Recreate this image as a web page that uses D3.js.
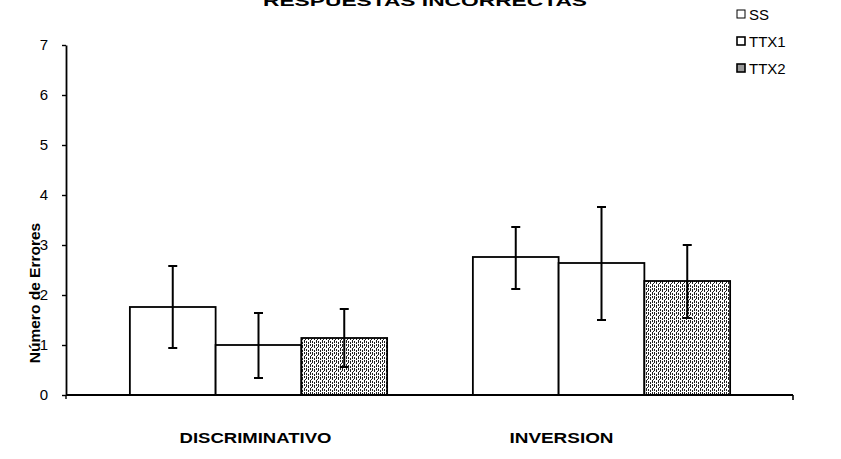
<!DOCTYPE html>
<html>
<head>
<meta charset="utf-8">
<script src="https://cdn.jsdelivr.net/npm/d3@7"></script>
<style>
  html, body { margin: 0; padding: 0; background: #fff; }
  svg { display: block; font-family: "Liberation Sans", Arial, sans-serif; }
</style>
</head>
<body>
<svg id="chart" width="841" height="459"></svg>
<script>
// Task categories and treatment groups
const categories = ["DISCRIMINATIVO", "INVERSION"];
const series = ["SS", "TTX1", "TTX2"];

// Mean number of errors per treatment, one entry per category
const ssMeans   = [1.76, 2.76];
const ttx1Means = [1.00, 2.64];
const ttx2Means = [1.14, 2.28];

// Error bar extents (lower, upper) per treatment
const ssLow    = [0.94, 2.12];
const ssHigh   = [2.58, 3.36];
const ttx1Low  = [0.34, 1.50];
const ttx1High = [1.64, 3.76];
const ttx2Low  = [0.56, 1.54];
const ttx2High = [1.72, 3.00];

const yTicks = [0, 1, 2, 3, 4, 5, 6, 7];

const table = [
  { key: "SS",   mean: ssMeans,   low: ssLow,   high: ssHigh },
  { key: "TTX1", mean: ttx1Means, low: ttx1Low, high: ttx1High },
  { key: "TTX2", mean: ttx2Means, low: ttx2Low, high: ttx2High }
];
const rows = [];
categories.forEach((c, ci) => table.forEach(s => rows.push({
  cat: c, key: s.key, mean: s.mean[ci], low: s.low[ci], high: s.high[ci]
})));

const svg = d3.select("#chart");

// Dotted halftone fill for the TTX2 bars
const defs = svg.append("defs");
const pat = defs.append("pattern")
  .attr("id", "halftone").attr("patternUnits", "userSpaceOnUse")
  .attr("width", 6).attr("height", 8);
pat.append("rect").attr("width", 6).attr("height", 8).attr("fill", "#fff");
[[0,0,1,3],[2,1,1,3],[4,0,1,2],[4,4,1,3],[0,5,1,2],[2,6,1,2],[5,3,1,1]]
  .forEach(r => pat.append("rect").attr("x", r[0]).attr("y", r[1])
    .attr("width", r[2]).attr("height", r[3]).attr("fill", "#222"));
const fills = { SS: "#fff", TTX1: "#fff", TTX2: "url(#halftone)" };

const axisLeft = 66, axisRight = 793;
const y = d3.scaleLinear().domain([0, 7]).range([395, 45]);
const x0 = d3.scaleBand().domain(categories).range([87, 773]);
const x1 = d3.scaleBand().domain(series).range([0, x0.bandwidth()]).paddingOuter(0.5);

// Title (runs past the top edge)
svg.append("text")
  .attr("x", 425).attr("y", 6)
  .attr("text-anchor", "middle")
  .attr("font-weight", "bold").attr("font-size", 15)
  .attr("textLength", 324).attr("lengthAdjust", "spacingAndGlyphs")
  .text("RESPUESTAS INCORRECTAS");

// Bars
svg.append("g").selectAll("rect").data(rows).join("rect")
  .attr("x", d => x0(d.cat) + x1(d.key))
  .attr("y", d => y(d.mean))
  .attr("width", x1.bandwidth())
  .attr("height", d => y(0) - y(d.mean))
  .attr("fill", d => fills[d.key])
  .attr("stroke", "#000").attr("stroke-width", 1.8);

// Error bars
const eb = svg.append("g").attr("stroke", "#000").attr("stroke-width", 2);
rows.forEach(d => {
  const cx = x0(d.cat) + x1(d.key) + x1.bandwidth() / 2;
  eb.append("line").attr("x1", cx).attr("x2", cx).attr("y1", y(d.low)).attr("y2", y(d.high));
  eb.append("line").attr("x1", cx - 4.5).attr("x2", cx + 4.5).attr("y1", y(d.low)).attr("y2", y(d.low));
  eb.append("line").attr("x1", cx - 4.5).attr("x2", cx + 4.5).attr("y1", y(d.high)).attr("y2", y(d.high));
});

// Y axis
const yAxis = svg.append("g")
  .attr("transform", `translate(${axisLeft},0)`)
  .call(d3.axisLeft(y).tickValues(yTicks).tickFormat(d3.format("d"))
    .tickSize(4).tickPadding(14).tickSizeOuter(0));
yAxis.select(".domain").attr("stroke-width", 1.8);
yAxis.selectAll(".tick line").attr("stroke-width", 1.4);
yAxis.selectAll(".tick text").attr("font-size", 15).attr("font-family", "Liberation Sans, Arial, sans-serif");

// X axis baseline with end ticks
const xa = svg.append("g").attr("stroke", "#000");
xa.append("line").attr("x1", axisLeft).attr("x2", axisRight).attr("y1", y(0)).attr("y2", y(0)).attr("stroke-width", 1.8);
xa.append("line").attr("x1", axisRight).attr("x2", axisRight).attr("y1", y(0)).attr("y2", y(0) + 5).attr("stroke-width", 1.6);
xa.append("line").attr("x1", axisLeft).attr("x2", axisLeft).attr("y1", y(0)).attr("y2", y(0) + 4).attr("stroke-width", 1.4);

// Category labels (wide, bold)
const labelShift = { DISCRIMINATIVO: -3, INVERSION: -40 };
const labelWidth = { DISCRIMINATIVO: 152, INVERSION: 104 };
svg.append("g").selectAll("text").data(categories).join("text")
  .attr("x", d => x0(d) + x0.bandwidth() / 2 + labelShift[d])
  .attr("y", 443)
  .attr("text-anchor", "middle")
  .attr("font-weight", "bold").attr("font-size", 14)
  .attr("textLength", d => labelWidth[d]).attr("lengthAdjust", "spacingAndGlyphs")
  .text(d => d);

// Y axis title
svg.append("text")
  .attr("transform", "translate(40,293) rotate(-90)")
  .attr("text-anchor", "middle")
  .attr("font-weight", "bold").attr("font-size", 15.5)
  .text("Número de Errores");

// Legend
const lg = svg.append("g").selectAll("g").data(series).join("g")
  .attr("transform", (d, i) => `translate(737,${14 + i * 27})`);
lg.append("rect").attr("x", 0).attr("y", -4).attr("width", 8).attr("height", 8)
  .attr("fill", d => d === "TTX2" ? "#999" : "#fff")
  .attr("stroke", "#000").attr("stroke-width", d => d === "SS" ? 1 : 1.6);
lg.append("text").attr("x", 12).attr("y", 5.5).attr("font-size", 15).text(d => d);
</script>
</body>
</html>
